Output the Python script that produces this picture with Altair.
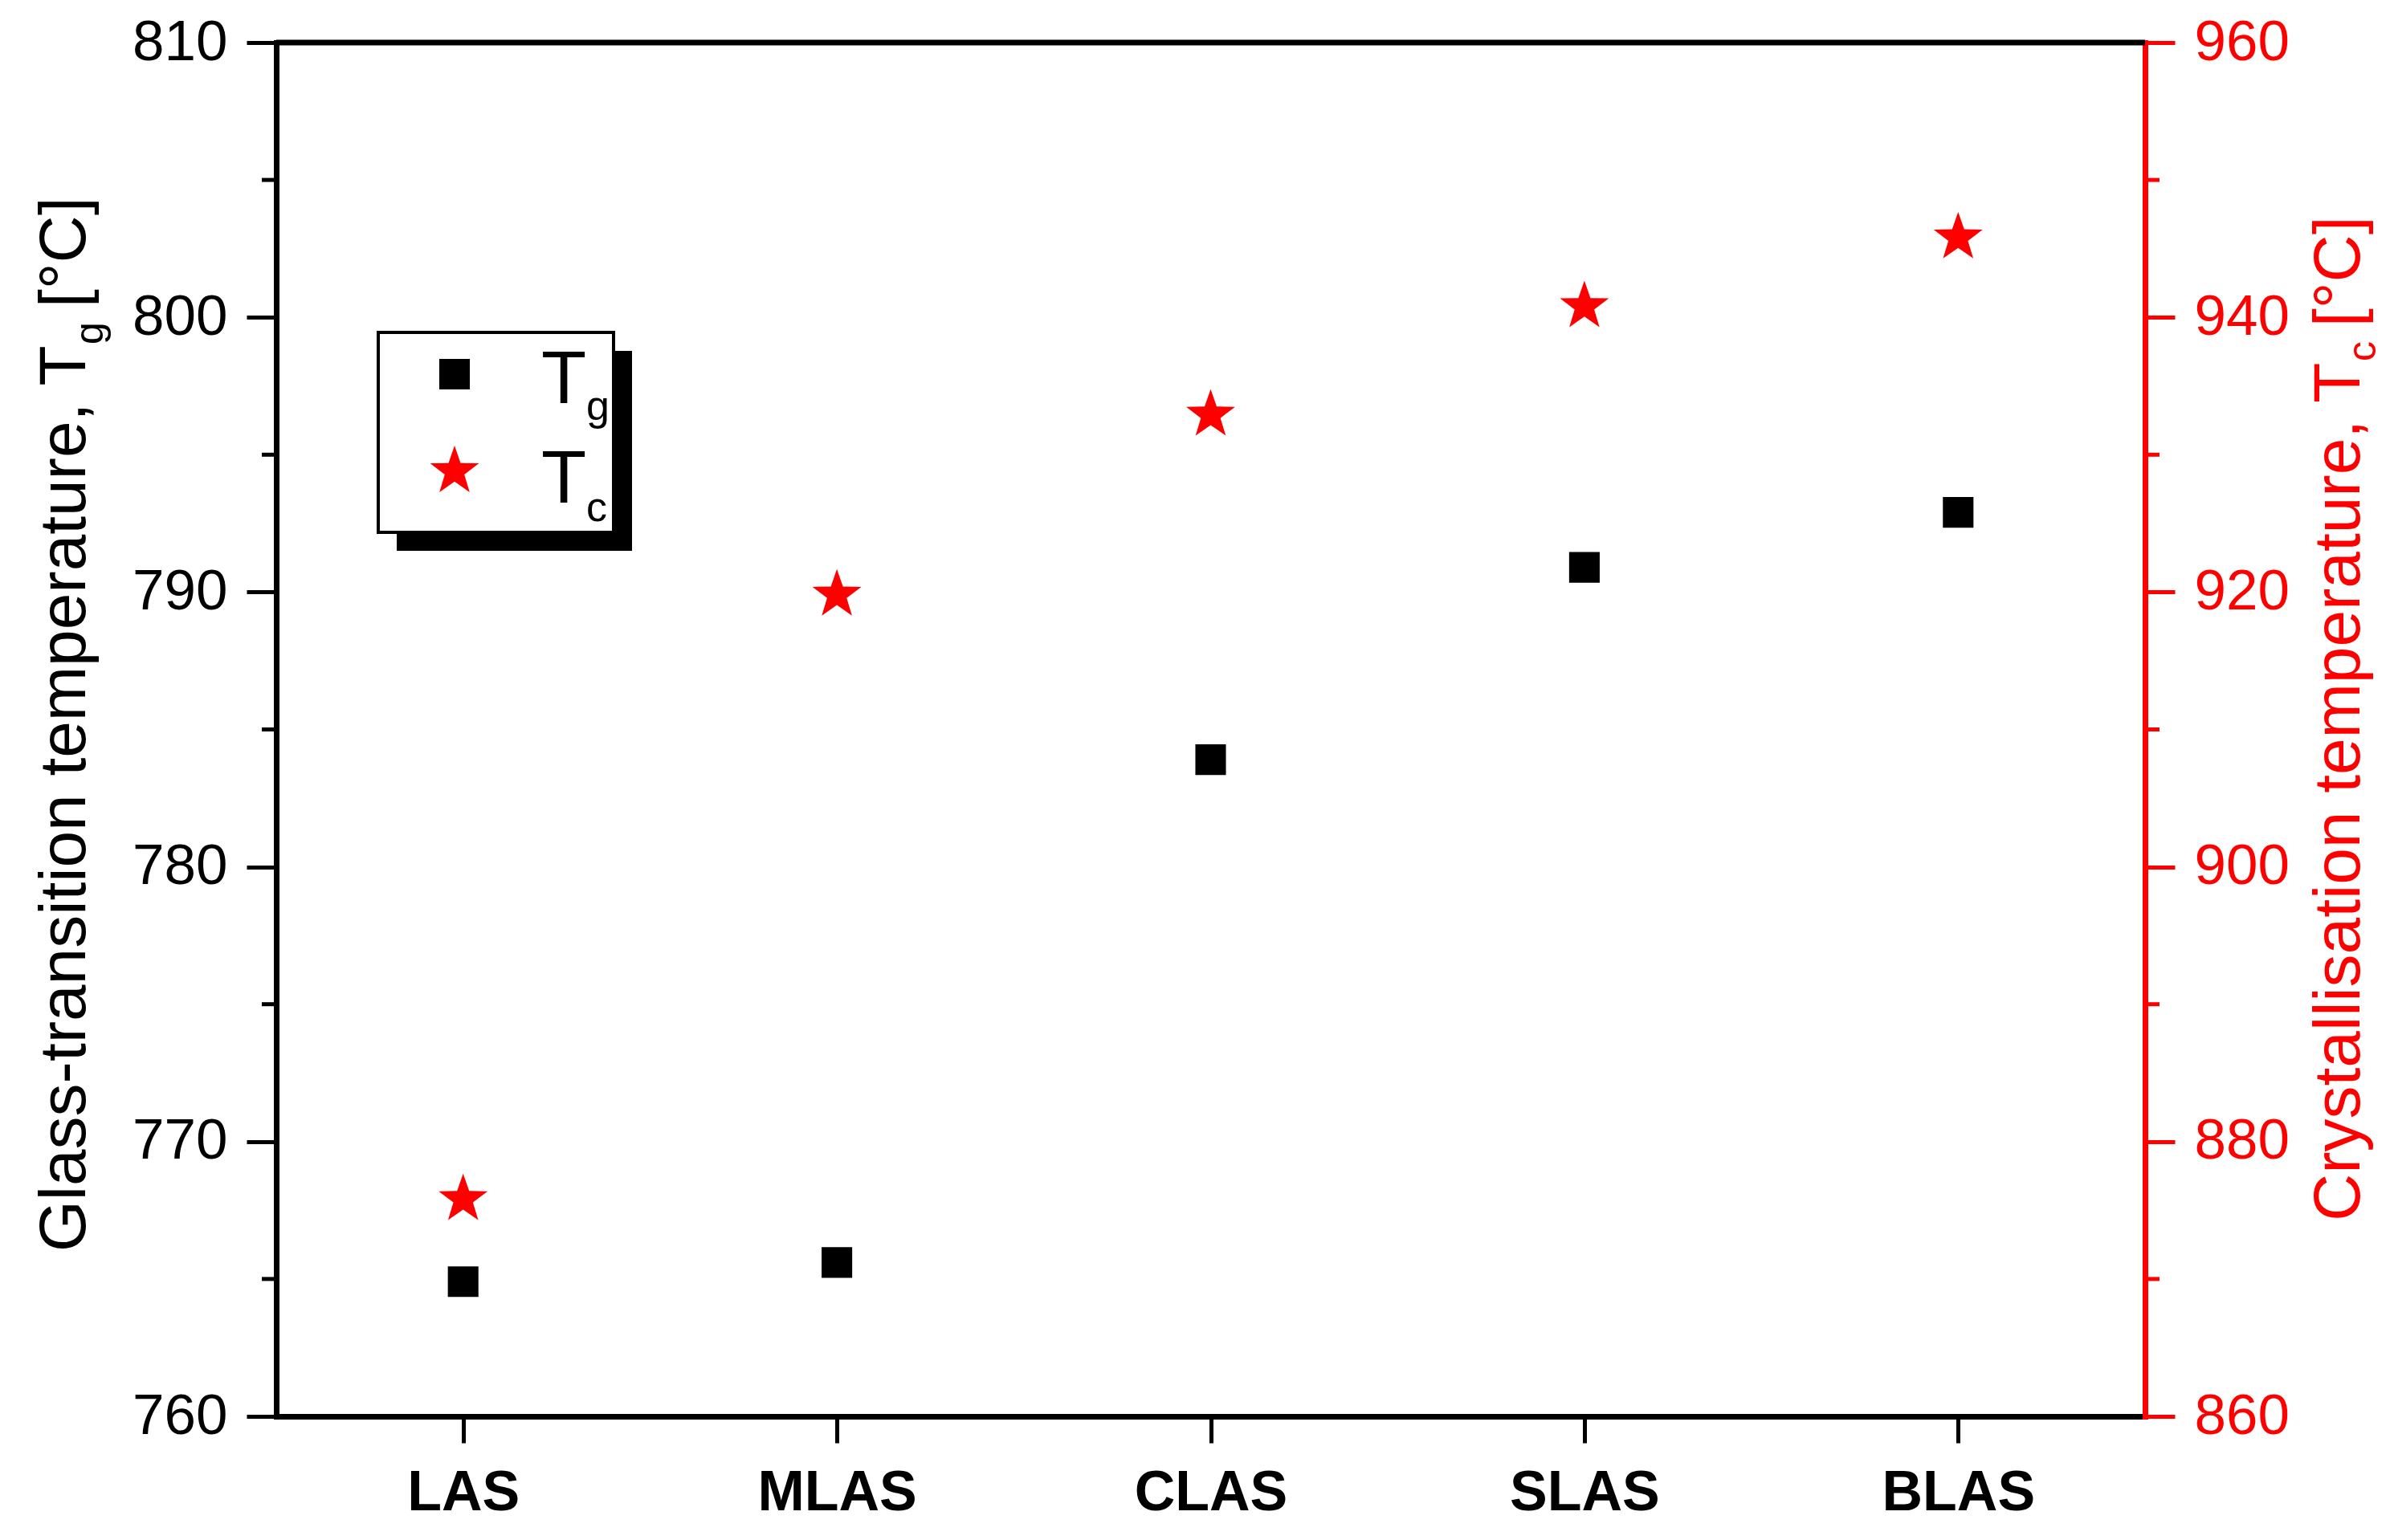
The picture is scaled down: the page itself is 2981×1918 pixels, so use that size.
import altair as alt
import pandas as pd

# ---- data ----
categories = ["LAS", "MLAS", "CLAS", "SLAS", "BLAS"]
tg_values = [764.9, 765.6, 783.9, 790.9, 792.9]
tc_values = [875.8, 919.8, 932.9, 940.8, 945.8]

left_major = [760, 770, 780, 790, 800, 810]
left_minor = [765, 775, 785, 795, 805]
right_major = [860, 880, 900, 920, 940, 960]
right_minor = [870, 890, 910, 930, 950]

df = pd.DataFrame({"glass": categories, "Tg": tg_values, "Tc": tc_values})
df_lminor = pd.DataFrame({"v": left_minor})
df_rminor = pd.DataFrame({"v": right_minor})

W, H = 2327, 1711
FONT = "Liberation Sans, Arial"
RED = "#ff0000"
MAJOR, MINOR = 37, 18

# five-pointed star in the [-1, 1] box used by Vega custom symbol shapes
STAR = ("M0,-1L0.2351,-0.3236L0.9511,-0.309L0.3804,0.1236L0.5878,0.809"
        "L0,0.4L-0.5878,0.809L-0.3804,0.1236L-0.9511,-0.309L-0.2351,-0.3236Z")

left_scale = alt.Scale(domain=[760, 810], nice=False, zero=False)
right_scale = alt.Scale(domain=[860, 960], nice=False, zero=False)


def left_axis():
    return alt.Axis(
        orient="left", title=None, values=left_major,
        labelFont=FONT, labelFontSize=71, labelColor="black",
        labelPadding=24, labelOverlap=False, labelFlush=False,
        tickSize=MAJOR, tickWidth=5, tickColor="black",
        domainColor="black", domainWidth=7, domainCap="square", grid=False,
    )


def right_axis():
    return alt.Axis(
        orient="right", title=None, values=right_major,
        labelFont=FONT, labelFontSize=71, labelColor=RED,
        labelPadding=24, labelOverlap=False, labelFlush=False,
        tickSize=MAJOR, tickWidth=5, tickColor=RED,
        domainColor=RED, domainWidth=7, domainCap="square", grid=False,
    )


x_enc = alt.X(
    "glass:N",
    sort=categories,
    scale=alt.Scale(type="point", padding=0.5),
    axis=alt.Axis(
        title=None, labelAngle=0, labelFont=FONT, labelFontWeight="bold",
        labelFontSize=70, labelColor="black", labelPadding=28, labelLimit=0,
        tickSize=33, tickWidth=5, tickColor="black",
        domainColor="black", domainWidth=7, domainCap="square", grid=False,
    ),
)

tg_layer = alt.Chart(df).mark_point(
    shape="square", filled=True, size=1450, color="black", opacity=1, strokeWidth=0
).encode(
    x=x_enc,
    y=alt.Y("Tg:Q", scale=left_scale, axis=left_axis()),
)
left_minor_layer = alt.Chart(df_lminor).mark_rule(color="black", strokeWidth=5).encode(
    y=alt.Y("v:Q", scale=left_scale, axis=left_axis()),
    x=alt.value(-MINOR),
    x2=alt.value(0),
)

tc_layer = alt.Chart(df).mark_point(
    shape=STAR, filled=True, size=4096, color=RED, opacity=1, strokeWidth=0
).encode(
    x=alt.X("glass:N", sort=categories),
    y=alt.Y("Tc:Q", scale=right_scale, axis=right_axis()),
)
right_minor_layer = alt.Chart(df_rminor).mark_rule(color=RED, strokeWidth=5).encode(
    y=alt.Y("v:Q", scale=right_scale, axis=right_axis()),
    x=alt.value(W),
    x2=alt.value(W + MINOR),
)

left_group = alt.layer(tg_layer, left_minor_layer)
right_group = alt.layer(tc_layer, right_minor_layer)

one = pd.DataFrame({"k": [0]})

top_border = alt.Chart(one).mark_rule(color="black", strokeWidth=7).encode(
    x=alt.value(0), x2=alt.value(W), y=alt.value(0)
)


def label(text, x, y, size, color="black", angle=0, font=FONT):
    return alt.Chart(one).mark_text(
        text=text, align="left", baseline="alphabetic", angle=angle,
        font=font, fontSize=size, color=color,
    ).encode(x=alt.value(x), y=alt.value(y))


# axis titles (with subscripts)
left_title = alt.layer(
    label("Glass-transition temperature, T", -238, 1506, 82, angle=270),
    label("g", -216, 376, 50, angle=270),
    label("[°C]", -238, 330, 82, angle=270),
)
right_title = alt.layer(
    label("Crystallisation temperature, T", 2594, 1468, 82, RED, angle=270),
    label("c", 2614, 397, 50, RED, angle=270),
    label("[°C]", 2594, 354, 82, RED, angle=270),
)

# legend box with shadow
shadow = alt.Chart(one).mark_rect(color="black").encode(
    x=alt.value(150), x2=alt.value(443), y=alt.value(384), y2=alt.value(633)
)
box = alt.Chart(one).mark_rect(fill="white", stroke="black", strokeWidth=4).encode(
    x=alt.value(127), x2=alt.value(420), y=alt.value(361), y2=alt.value(610)
)
leg_sq = alt.Chart(one).mark_point(
    shape="square", filled=True, size=1450, color="black", opacity=1, strokeWidth=0
).encode(x=alt.value(222), y=alt.value(413))
leg_star = alt.Chart(one).mark_point(
    shape=STAR, filled=True, size=4096, color=RED, opacity=1, strokeWidth=0
).encode(x=alt.value(222), y=alt.value(534))
leg_text = alt.layer(
    label("T", 330, 449, 92),
    label("g", 386, 470, 52),
    label("T", 330, 573, 92),
    label("c", 386, 596, 52),
)

chart = (
    alt.layer(
        left_group, right_group, top_border, left_title, right_title,
        shadow, box, leg_sq, leg_star, leg_text,
    )
    .resolve_scale(y="independent")
    .properties(
        width=W, height=H,
        autosize=alt.AutoSizeParams(type="none"),
        padding={"left": 336, "top": 45, "right": 302, "bottom": 146},
    )
    .configure(background="white")
    .configure_view(strokeWidth=0)
)

chart.save("out.html", embed_options={"renderer": "svg", "actions": False})
